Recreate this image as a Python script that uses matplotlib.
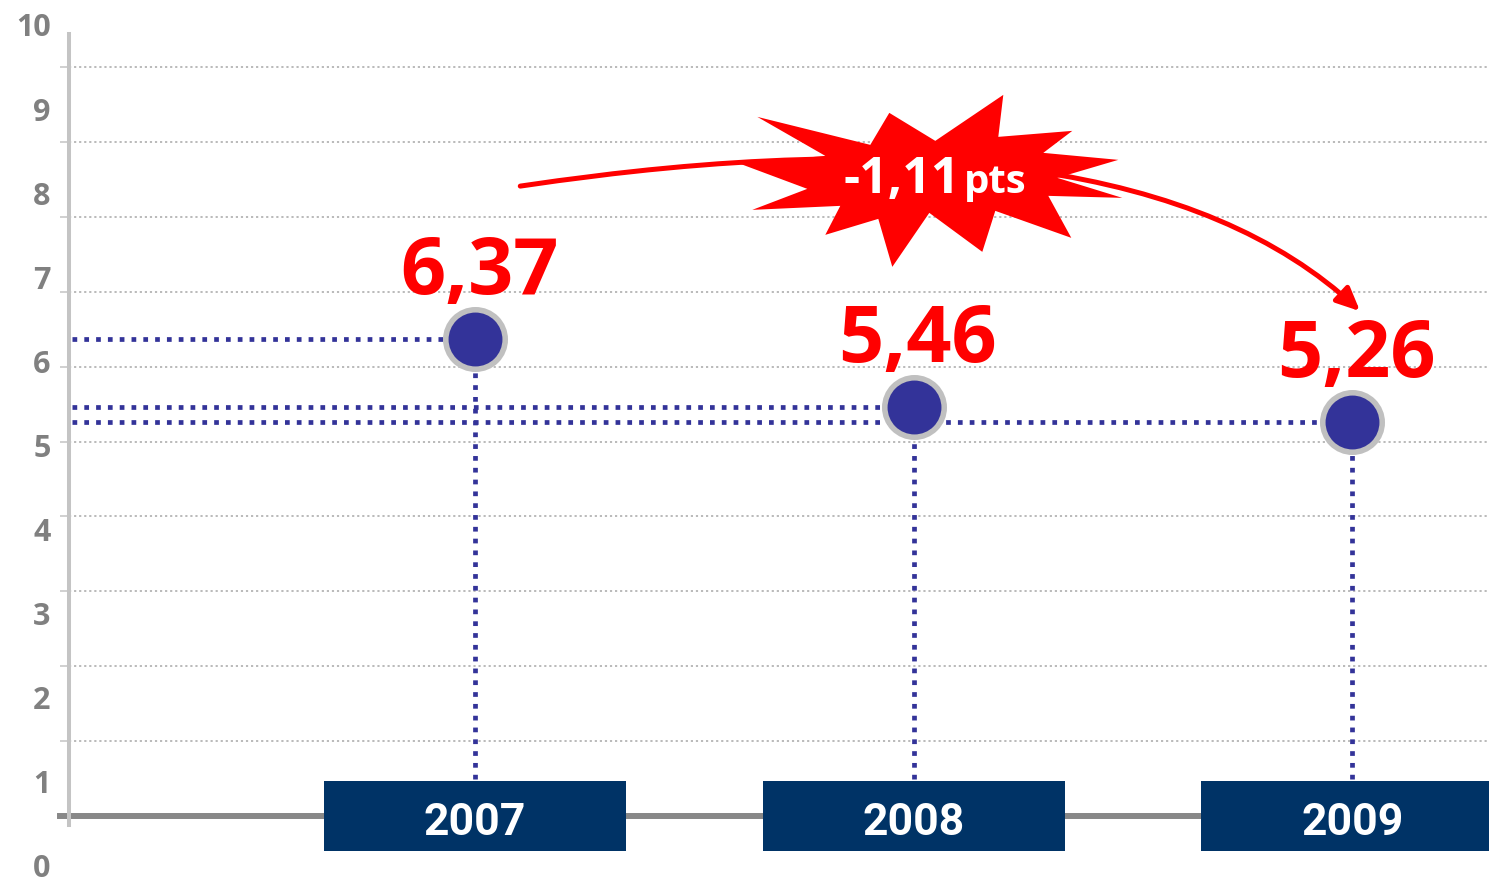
import matplotlib
matplotlib.use('Agg')
import matplotlib.pyplot as plt
from matplotlib.patches import Rectangle, Polygon, FancyArrowPatch
from matplotlib.transforms import Affine2D, ScaledTranslation

# ---- data ----
years = ['2007', '2008', '2009']
values = [6.37, 5.46, 5.26]
value_labels = ['6,37', '5,46', '5,26']
change_label = '-1,11'
change_unit = 'pts'
y_ticks = list(range(0, 11))

# ---- style ----
BLUE = '#333399'
NAVY = '#003366'
RED = '#ff0000'
GREY_TXT = '#808080'
FONT = 'Open Sans'

W, H, DPI = 1489, 878, 100
fig = plt.figure(figsize=(W / DPI, H / DPI), dpi=DPI)
left_px = 69
ax = fig.add_axes([left_px / W, 0, 1 - left_px / W, 1])
xs = list(range(len(years)))
ax.set_xlim(-0.926, 2.312)
ax.set_ylim(-0.814, 10.908)

# grid + axes lines
ax.set_yticks(y_ticks)
ax.set_xticks([])
ax.tick_params(axis='y', length=6.5, width=1.2, color='#c8c8c8', labelleft=False, direction='out')
ax.yaxis.grid(True, color='#b4b4b4', linestyle=(0, (1.2, 1.6)), linewidth=1.3, zorder=0)
ax.set_axisbelow(True)
for s in ['top', 'right', 'bottom']:
    ax.spines[s].set_visible(False)
ax.spines['left'].set_color('#c4c4c4')
ax.spines['left'].set_linewidth(2.9)
ax.spines['left'].set_bounds(-0.12, 10.44)
ax.axhline(0, xmin=-9 / (W - left_px), xmax=1, color='#888888', lw=4.3, clip_on=False, zorder=2)

# tick labels (separate scale as in the original graphic)
ax2 = ax.twinx()
ax2.yaxis.tick_left()
ax2.set_ylim(-0.143, 10.297)
ax2.set_yticks(y_ticks)
ax2.tick_params(axis='y', length=0, pad=13.2, labelsize=22, labelcolor=GREY_TXT)
for lab in ax2.get_yticklabels():
    lab.set_fontweight('bold')
    lab.set_fontfamily(FONT)
ax2.set_xticks([])
for s in ax2.spines.values():
    s.set_visible(False)

# guide lines
for x, v in zip(xs, values):
    ax.plot([-0.92, x], [v, v], color=BLUE, lw=3.4, linestyle=(0, (1, 1.5)),
            dash_capstyle='butt', zorder=3)
    ax.plot([x, x], [0.5, v], color=BLUE, lw=3.4, linestyle=(0, (1, 1.5)),
            dash_capstyle='butt', zorder=3)

# markers
ax.plot(xs, values, 'o', ls='none', ms=42.8, mfc=BLUE, mec='#c0c0c0', mew=4, zorder=5)

# value labels
for x, v, t in zip(xs, values, value_labels):
    ax.annotate(t, (x, v), xytext=(3, 33), textcoords='offset points', ha='center',
                va='baseline', color=RED, fontsize=57, fontweight='bold', family=FONT, zorder=9)

# year boxes
bw = 0.689
for x, yr in zip(xs, years):
    ax.add_patch(Rectangle((x - bw / 2, -0.467), bw, 0.934, fc=NAVY, ec='none', zorder=6))
    ax.text(x, -0.24, yr, ha='center', va='baseline', color='white', fontsize=32,
            fontweight='bold', family='Roboto', zorder=7)

# curved arrow
arrow = FancyArrowPatch(posA=(xs[0] + 0.103, 8.41), posB=(xs[2] + 0.018, 6.74),
                        connectionstyle='angle3,angleA=8.5,angleB=-43',
                        arrowstyle='-|>,head_length=0.7,head_width=0.32',
                        mutation_scale=20, color=RED, lw=3.6, shrinkA=0, shrinkB=0, zorder=7)
ax.add_patch(arrow)

# starburst (shape offsets in pixels relative to its centre, y downwards)
star_shape = [(-41, -71), (5, -43), (73, -89), (68, -47), (142, -53), (113, -31),
              (188, -24), (127, -6), (192, 14), (118, 12), (141, 54), (65, 27),
              (52, 68), (-1, 29), (-38, 83), (-52, 35), (-105, 51), (-90, 22),
              (-178, 26), (-123, 5), (-190, -20), (-105, -28), (-173, -67), (-60, -39)]
star_c = (1.038, 8.44)
trans = Affine2D().scale(1 / DPI, -1 / DPI) + fig.dpi_scale_trans + \
    ScaledTranslation(star_c[0], star_c[1], ax.transData)
ax.add_patch(Polygon(star_shape, closed=True, fc=RED, ec='none', transform=trans, zorder=8))
ax.annotate(change_label, star_c, xytext=(21.6, -5.8), textcoords='offset points',
            ha='right', va='baseline', color='white', fontsize=36, fontweight='bold',
            family=FONT, zorder=9)
ax.annotate(change_unit, star_c, xytext=(24.0, -5.8), textcoords='offset points',
            ha='left', va='baseline', color='white', fontsize=29, fontweight='bold',
            family=FONT, zorder=9)

fig.savefig('out.png', dpi=DPI)
